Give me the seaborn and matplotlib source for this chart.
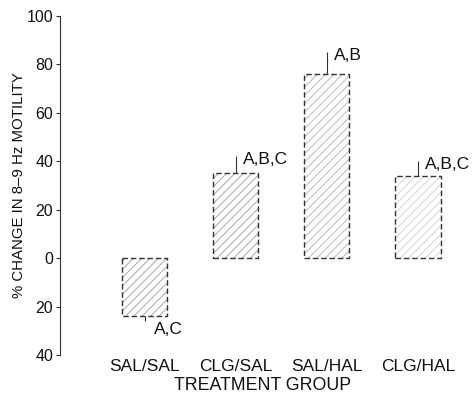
import matplotlib
matplotlib.use("Agg")
import matplotlib.pyplot as plt
from matplotlib.ticker import FuncFormatter
import seaborn as sns
import pandas as pd

groups = ["SAL/SAL", "CLG/SAL", "SAL/HAL", "CLG/HAL"]
change = [-24, 35, 76, 34]
err_end = [-26, 42, 85, 40]
sig = ["A,C", "A,B,C", "A,B", "A,B,C"]
yticks = [-40, -20, 0, 20, 40, 60, 80, 100]

sns.set_theme(style="white")
plt.rcParams["font.family"] = ["Liberation Sans", "DejaVu Sans"]
plt.rcParams["hatch.linewidth"] = 0.6

df = pd.DataFrame({"group": groups, "change": change})

fig = plt.figure(figsize=(4.76, 3.98), dpi=100)
ax = fig.add_axes([0.126, 0.108, 0.853, 0.852])

sns.barplot(data=df, x="group", y="change", ax=ax, width=0.5,
            color="white", errorbar=None)

hatch_cols = ["#9a9a9a", "#9a9a9a", "#b0b0b0", "#cfcfcf"]
for p, hc in zip(ax.patches, hatch_cols):
    p.set_facecolor("white")
    p.set_edgecolor(hc)
    p.set_hatch("////")
    p.set_linewidth(0)
    p.set_zorder(2)
for p in ax.patches:
    x0, y0 = p.get_x(), p.get_y()
    w, h = p.get_width(), p.get_height()
    ax.plot([x0, x0 + w, x0 + w, x0, x0], [y0, y0, y0 + h, y0 + h, y0],
            color="#333333", lw=1.0, ls=(0, (4, 2)), zorder=3)

for i, (v, e, s) in enumerate(zip(change, err_end, sig)):
    ax.vlines(i, v, e, color="#333333", lw=0.8, zorder=3)
    ax.annotate(s, (i, e), xytext=(5 if v > 0 else 7, -2 if v > 0 else -6),
                textcoords="offset points", ha="left", va="center",
                fontsize=12.5, color="#111111")

ax.set_ylim(-40, 100)
ax.set_xlim(-0.93, 3.53)
ax.set_yticks(yticks)
ax.yaxis.set_major_formatter(FuncFormatter(lambda v, p: f"{abs(int(v))}"))
ax.tick_params(axis="y", left=True, length=3, width=0.8, color="#333333",
               labelsize=11.5, labelcolor="#111111", pad=2)
ax.tick_params(axis="x", bottom=False, labelsize=12.5, labelcolor="#111111", pad=-3)
for sp in ["top", "right", "bottom"]:
    ax.spines[sp].set_visible(False)
ax.spines["left"].set_color("#333333")
ax.spines["left"].set_linewidth(0.8)
ax.set_xlabel("TREATMENT GROUP", fontsize=12.8, color="#111111", labelpad=2)
ax.set_ylabel("% CHANGE IN 8\u20139 Hz MOTILITY", fontsize=10.8, color="#111111",
              labelpad=0)

fig.savefig("out.png", dpi=100, facecolor="white")
